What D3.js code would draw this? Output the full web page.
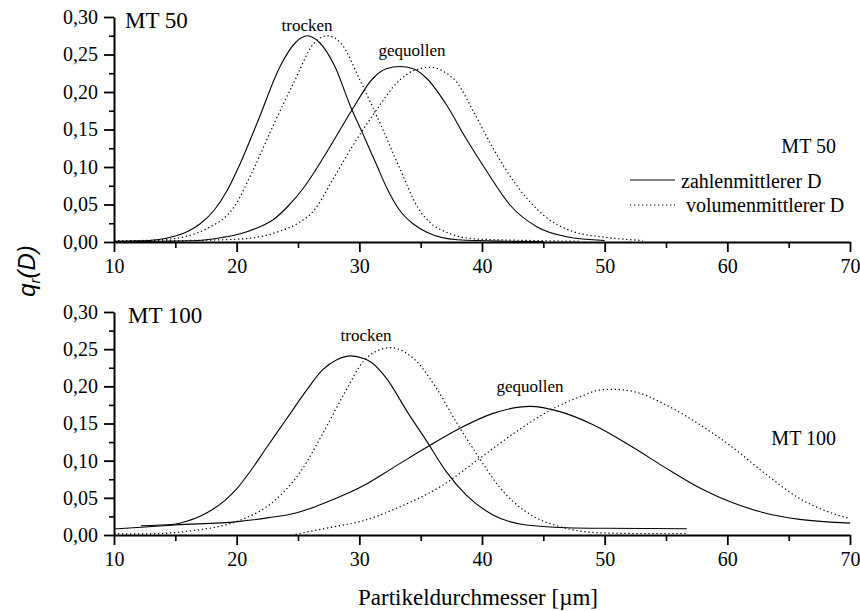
<!DOCTYPE html>
<html>
<head>
<meta charset="utf-8">
<script src="https://d3js.org/d3.v7.min.js"></script>
<style>
  body { margin: 0; background: #fff; }
  svg { display: block; }
</style>
</head>
<body>
<div id="chart"></div>
<script>
const serif = "'Liberation Serif', 'Times New Roman', Times, serif";

// tick values
const xTicks = [10, 20, 30, 40, 50, 60, 70];
const xMinor = [15, 25, 35, 45, 55, 65];
const yTicks = [0, 0.05, 0.10, 0.15, 0.20, 0.25, 0.30];
const yMinor = [0.025, 0.075, 0.125, 0.175, 0.225, 0.275];

// MT 50 curves [D, q]
const mt50TrockenZahl = [[10,0.001],[12,0.0015],[13.5,0.003],[15,0.008],[16,0.014],[17,0.024],[18.15,0.042],[19.2,0.068],[20.3,0.105],[21.7,0.160],[23.6,0.236],[24.8,0.266],[25.75,0.275],[26.75,0.266],[27.95,0.236],[29.4,0.176],[29.85,0.160],[31.35,0.105],[32.3,0.070],[33.3,0.042],[34.4,0.024],[35.5,0.013],[38,0.003],[42,0.001],[45,0.0005]];
const mt50TrockenVol = [[10,0.002],[12,0.002],[14.6,0.004],[16.2,0.009],[17.6,0.018],[19.8,0.047],[21.4,0.098],[23.0,0.156],[24.7,0.214],[26.3,0.265],[27.4,0.275],[28.5,0.265],[30.1,0.214],[31.75,0.156],[33.3,0.098],[34.8,0.045],[35.9,0.024],[37.1,0.013],[39.6,0.004],[44,0.002],[48,0.001]];
const mt50GequollenZahl = [[10,0.0005],[14,0.001],[16.8,0.002],[18.8,0.006],[20.3,0.011],[21.7,0.019],[23.0,0.030],[24.2,0.048],[25.4,0.071],[27.2,0.116],[29.4,0.176],[31.1,0.218],[32.2,0.231],[33.3,0.234],[34.4,0.231],[35.5,0.218],[37.1,0.183],[38.7,0.138],[40.4,0.094],[42.3,0.049],[44.5,0.020],[46.9,0.007],[50,0.002]];
const mt50GequollenVol = [[10,0.001],[16,0.002],[20.3,0.004],[22.2,0.008],[23.6,0.015],[25.0,0.025],[26.3,0.042],[27.9,0.085],[29.6,0.132],[31.1,0.169],[33.3,0.216],[34.5,0.229],[35.8,0.233],[37.0,0.226],[37.9,0.214],[39.3,0.174],[40.9,0.125],[42.8,0.076],[45.0,0.036],[47.4,0.014],[50.2,0.006],[53.1,0.002]];

// MT 100 curves [D, q]
const mt100TrockenZahl = [[12.2,0.0125],[14.9,0.0144],[16.2,0.020],[17.1,0.026],[18.0,0.034],[19.0,0.046],[20.0,0.062],[20.9,0.081],[22.5,0.119],[24.1,0.157],[25.75,0.196],[27.0,0.222],[28.2,0.236],[29.3,0.241],[30.4,0.237],[30.9,0.233],[32.2,0.211],[33.9,0.166],[35.5,0.126],[37.1,0.085],[38.7,0.054],[40.9,0.027],[43.6,0.0134],[46.9,0.0098],[50,0.009],[56.7,0.0085]];
const mt100TrockenVol = [[10,0.0015],[12.7,0.0015],[16.8,0.0067],[18.7,0.012],[20.3,0.020],[23.0,0.045],[25.2,0.085],[27.1,0.139],[28.7,0.188],[30.4,0.235],[31.5,0.248],[32.6,0.252],[33.6,0.247],[34.7,0.233],[36.3,0.197],[37.9,0.152],[39.6,0.108],[41.5,0.063],[43.6,0.031],[46.4,0.011],[49.6,0.003],[53,0.002],[56.6,0.002]];
const mt100GequollenZahl = [[10,0.008],[12.2,0.0105],[15,0.0135],[20.05,0.018],[22.5,0.023],[24.9,0.030],[26.4,0.038],[27.9,0.048],[30.4,0.067],[32.8,0.091],[35.8,0.121],[38.2,0.1435],[40.9,0.1636],[43.9,0.173],[46.35,0.166],[49.1,0.148],[52.3,0.118],[55.0,0.090],[57.8,0.063],[60.5,0.043],[63.2,0.029],[65.9,0.021],[70,0.016]];
const mt100GequollenVol = [[24.8,0.001],[27.9,0.011],[30.05,0.018],[33.6,0.040],[36.8,0.067],[39.8,0.103],[42.8,0.139],[45.8,0.170],[48,0.186],[49.6,0.195],[50.7,0.196],[52.6,0.192],[55.0,0.175],[57.8,0.148],[60.5,0.117],[63.2,0.081],[65.9,0.049],[68.6,0.029],[70,0.022]];

const width = 860, height = 611;

const svg = d3.select("#chart").append("svg")
  .attr("width", width)
  .attr("height", height);

const x = d3.scaleLinear().domain([10, 70]).range([114, 850]);

const fmt = d => d.toFixed(2).replace(".", ",");

function styleAxis(g) {
  g.attr("font-family", serif).attr("font-size", 20);
  g.selectAll("text").attr("fill", "#000");
  g.selectAll("line").attr("stroke", "#000").attr("stroke-width", 1.8);
  g.select(".domain").attr("stroke", "#000").attr("stroke-width", 2);
}

function drawPanel(cfg) {
  const y = d3.scaleLinear().domain([0, 0.3]).range([cfg.bottom, cfg.top]);

  // minor ticks
  svg.append("g")
    .attr("transform", "translate(114,0)")
    .call(d3.axisLeft(y).tickValues(yMinor).tickSize(5).tickSizeOuter(0).tickFormat(""))
    .call(g => g.select(".domain").remove())
    .selectAll("line").attr("stroke", "#000").attr("stroke-width", 1.6);
  svg.append("g")
    .attr("transform", "translate(0," + cfg.bottom + ")")
    .call(d3.axisBottom(x).tickValues(xMinor).tickSize(6).tickSizeOuter(0).tickFormat(""))
    .call(g => g.select(".domain").remove())
    .selectAll("line").attr("stroke", "#000").attr("stroke-width", 1.6);

  // Y axis
  svg.append("g")
    .attr("transform", "translate(114,0)")
    .call(d3.axisLeft(y).tickValues(yTicks).tickSize(10).tickSizeOuter(0).tickPadding(6).tickFormat(fmt))
    .call(styleAxis);

  // X axis
  svg.append("g")
    .attr("transform", "translate(0," + cfg.bottom + ")")
    .call(d3.axisBottom(x).tickValues(xTicks).tickSize(10).tickSizeOuter(0).tickPadding(7).tickFormat(d3.format("d")))
    .call(styleAxis);

  const line = d3.line()
    .x(d => x(d[0]))
    .y(d => y(d[1]))
    .curve(d3.curveMonotoneX);

  cfg.series.forEach(s => {
    svg.append("path")
      .datum(s.data)
      .attr("fill", "none")
      .attr("stroke", "#000")
      .attr("stroke-width", s.dotted ? 1.2 : 1.1)
      .attr("stroke-dasharray", s.dotted ? "1.3,2.7" : null)
      .attr("d", line);
  });

  // labels
  svg.append("text")
    .attr("x", cfg.titleX).attr("y", cfg.titleY)
    .attr("font-family", serif).attr("font-size", 23)
    .text(cfg.name);
  svg.append("text")
    .attr("x", 836).attr("y", cfg.sideY)
    .attr("text-anchor", "end")
    .attr("font-family", serif).attr("font-size", 20)
    .text(cfg.name);
  cfg.notes.forEach(n => {
    svg.append("text")
      .attr("x", n.x).attr("y", n.y)
      .attr("text-anchor", "middle")
      .attr("font-family", serif).attr("font-size", 17)
      .text(n.t);
  });
}

drawPanel({
  name: "MT 50", top: 17, bottom: 242, titleX: 125, titleY: 28, sideY: 153,
  series: [
    { data: mt50TrockenZahl, dotted: false },
    { data: mt50TrockenVol, dotted: true },
    { data: mt50GequollenZahl, dotted: false },
    { data: mt50GequollenVol, dotted: true }
  ],
  notes: [{ t: "trocken", x: 307, y: 31 }, { t: "gequollen", x: 412, y: 56 }]
});

drawPanel({
  name: "MT 100", top: 312, bottom: 535, titleX: 128, titleY: 323, sideY: 445,
  series: [
    { data: mt100TrockenZahl, dotted: false },
    { data: mt100TrockenVol, dotted: true },
    { data: mt100GequollenZahl, dotted: false },
    { data: mt100GequollenVol, dotted: true }
  ],
  notes: [{ t: "trocken", x: 366, y: 341 }, { t: "gequollen", x: 530, y: 392 }]
});

// legend (top panel)
const legend = [
  { t: "zahlenmittlerer D", dotted: false, y: 180, tx: 681, ty: 188 },
  { t: "volumenmittlerer D", dotted: true, y: 205, tx: 686, ty: 212 }
];
legend.forEach(l => {
  svg.append("line")
    .attr("x1", 630).attr("x2", 675).attr("y1", l.y).attr("y2", l.y)
    .attr("stroke", "#000")
    .attr("stroke-width", l.dotted ? 1.2 : 1.1)
    .attr("stroke-dasharray", l.dotted ? "1.3,2.7" : null);
  svg.append("text")
    .attr("x", l.tx).attr("y", l.ty)
    .attr("font-family", serif).attr("font-size", 20)
    .text(l.t);
});

// axis titles
const yt = svg.append("text")
  .attr("transform", "translate(35,271) rotate(-90)")
  .attr("text-anchor", "middle")
  .attr("font-family", "'Liberation Sans', Arial, sans-serif")
  .attr("font-style", "italic")
  .attr("font-size", 24);
yt.append("tspan").text("q");
yt.append("tspan").attr("font-size", 15).attr("dy", 5).text("r");
yt.append("tspan").attr("dy", -5).text("(D)");

svg.append("text")
  .attr("x", 478).attr("y", 605)
  .attr("text-anchor", "middle")
  .attr("font-family", serif).attr("font-size", 23)
  .text("Partikeldurchmesser [µm]");
</script>
</body>
</html>
